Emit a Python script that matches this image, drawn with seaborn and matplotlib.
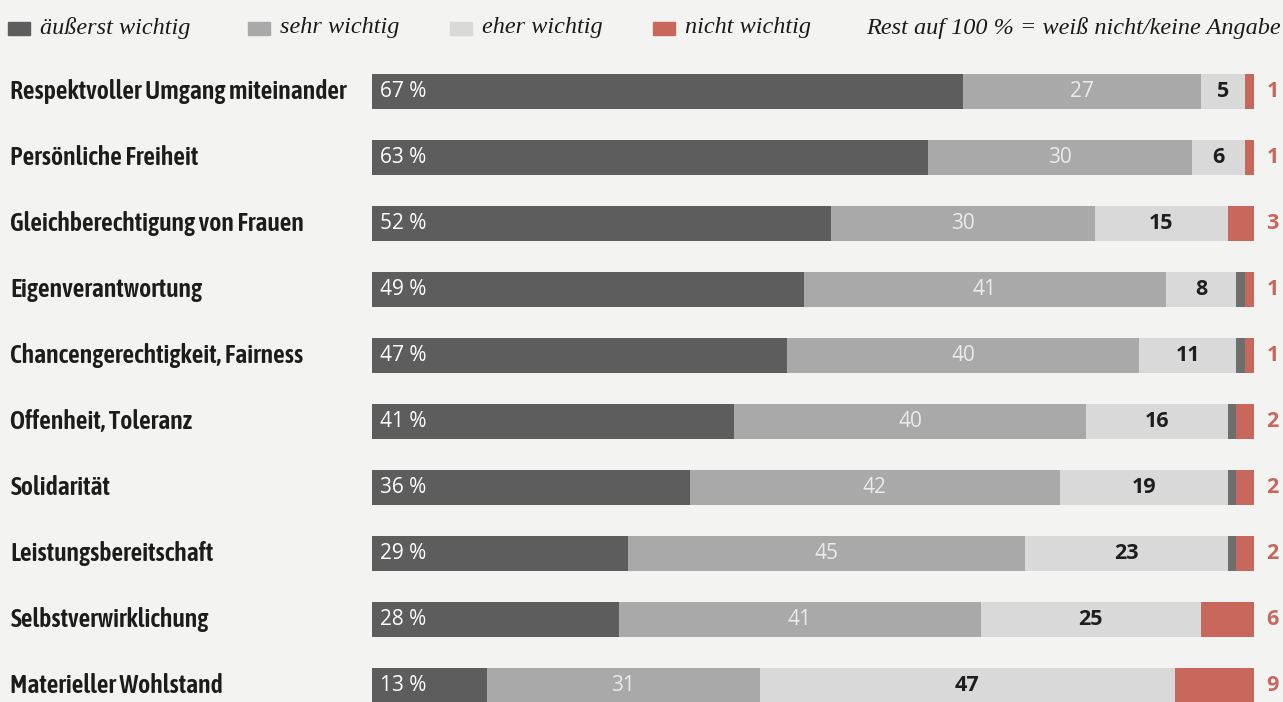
import numpy as np
import pandas as pd
import matplotlib.pyplot as plt
import seaborn as sns
from matplotlib import font_manager
from matplotlib.patches import Rectangle

# Data ---------------------------------------------------------------
categories = ['Respektvoller Umgang miteinander', 'Persönliche Freiheit',
              'Gleichberechtigung von Frauen', 'Eigenverantwortung',
              'Chancengerechtigkeit, Fairness', 'Offenheit, Toleranz',
              'Solidarität', 'Leistungsbereitschaft', 'Selbstverwirklichung',
              'Materieller Wohlstand']
aeusserst = [67, 63, 52, 49, 47, 41, 36, 29, 28, 13]
sehr = [27, 30, 30, 41, 40, 40, 42, 45, 41, 31]
eher = [5, 6, 15, 8, 11, 16, 19, 23, 25, 47]
nicht = [1, 1, 3, 1, 1, 2, 2, 2, 6, 9]

legend_labels = ['äußerst wichtig', 'sehr wichtig', 'eher wichtig', 'nicht wichtig']
legend_note = 'Rest auf 100 % = weiß nicht/keine Angabe'

# Colours
c_dark = '#5d5d5d'
c_mid = '#a9a9a9'
c_light = '#d9d9d9'
c_red = '#c8685d'
c_rest = '#6e6e6e'
c_bg = '#f3f3f1'

df = pd.DataFrame({'cat': categories, 'a': aeusserst, 's': sehr, 'e': eher, 'n': nicht})
df['cum_s'] = df['a'] + df['s']
df['cum_e'] = df['cum_s'] + df['e']
df['rest'] = 100 - df['cum_e'] - df['n']

sns.set_theme(style='white')

# look for a condensed sans with a bold cut
def is_cond(n):
    return ('Condensed' in n or 'Narrow' in n) and 'Serif' not in n and 'Mono' not in n

bold_cond = sorted({f.name for f in font_manager.fontManager.ttflist
                    if is_cond(f.name) and (f.weight in ('bold', 'semibold', 'demibold', 'heavy', 'black')
                                            or (isinstance(f.weight, int) and f.weight >= 600))})
any_cond = sorted({f.name for f in font_manager.fontManager.ttflist if is_cond(f.name)})
if bold_cond:
    label_font = [bold_cond[0], 'DejaVu Sans']
elif any_cond:
    label_font = [any_cond[0], 'DejaVu Sans']
else:
    label_font = ['Liberation Sans', 'DejaVu Sans']
value_font = ['Open Sans', 'DejaVu Sans']
legend_font = ['Liberation Serif', 'DejaVu Serif']

fig = plt.figure(figsize=(12.83, 7.02), dpi=100, facecolor=c_bg)
ax = fig.add_axes([372 / 1283, 0, 882 / 1283, 1 - 59 / 702])
ax.set_facecolor(c_bg)

bar_h = 0.53
# stacked layers, widest first
for col, colour in [('cum_e', c_light), ('cum_s', c_mid), ('a', c_dark)]:
    sns.barplot(data=df, y='cat', x=col, color=colour, orient='h', width=bar_h,
                saturation=1, linewidth=0, ax=ax)

ypos = np.arange(len(categories))
# rest and "nicht wichtig" are right-aligned at 100
ax.barh(ypos, df['rest'], left=100 - df['n'] - df['rest'], height=bar_h,
        color=c_rest, linewidth=0)
ax.barh(ypos, df['n'], left=100 - df['n'], height=bar_h, color=c_red, linewidth=0)

ax.set_xlim(0, 100)
ax.set_ylim(9.257, -0.5)
ax.set_xlabel('')
ax.set_ylabel('')
ax.set_xticks([])
ax.set_yticks([])
sns.despine(ax=ax, left=True, bottom=True)

# labels
for i, row in df.iterrows():
    ax.text(-41.0, i, row['cat'], ha='left', va='center', fontsize=18.5,
            fontweight='semibold', color='#1c1c1c', family=label_font, clip_on=False)
    ax.text(0.9, i, f"{row['a']} %", ha='left', va='center', fontsize=15,
            fontweight='medium', color='white', family=value_font)
    ax.text(row['a'] + row['s'] / 2, i, str(row['s']), ha='center', va='center',
            fontsize=15, fontweight='medium', color='#ebebeb', family=value_font)
    ax.text(row['cum_s'] + row['e'] / 2, i, str(row['e']), ha='center', va='center',
            fontsize=15.5, fontweight='bold', color='#1e1e1e', family=value_font)
    ax.text(101.4, i, str(row['n']), ha='left', va='center', fontsize=15.5,
            fontweight='bold', color=c_red, family=value_font, clip_on=False)

# legend
H = 702.0
W = 1283.0
leg_x = [8, 248, 450, 653]
leg_cols = [c_dark, c_mid, c_light, c_red]
for x, col, lab in zip(leg_x, leg_cols, legend_labels):
    fig.add_artist(Rectangle((x / W, 1 - 35 / H), 22 / W, 13 / H, color=col,
                             transform=fig.transFigure))
    fig.text((x + 32) / W, 1 - 28 / H, lab, ha='left', va='center', fontsize=17.5,
             style='italic', color='#1a1a1a', family=legend_font)
fig.text(1281 / W, 1 - 28 / H, legend_note, ha='right', va='center', fontsize=17.5,
         style='italic', color='#1a1a1a', family=legend_font)

fig.savefig('out.png', dpi=100, facecolor=c_bg)
